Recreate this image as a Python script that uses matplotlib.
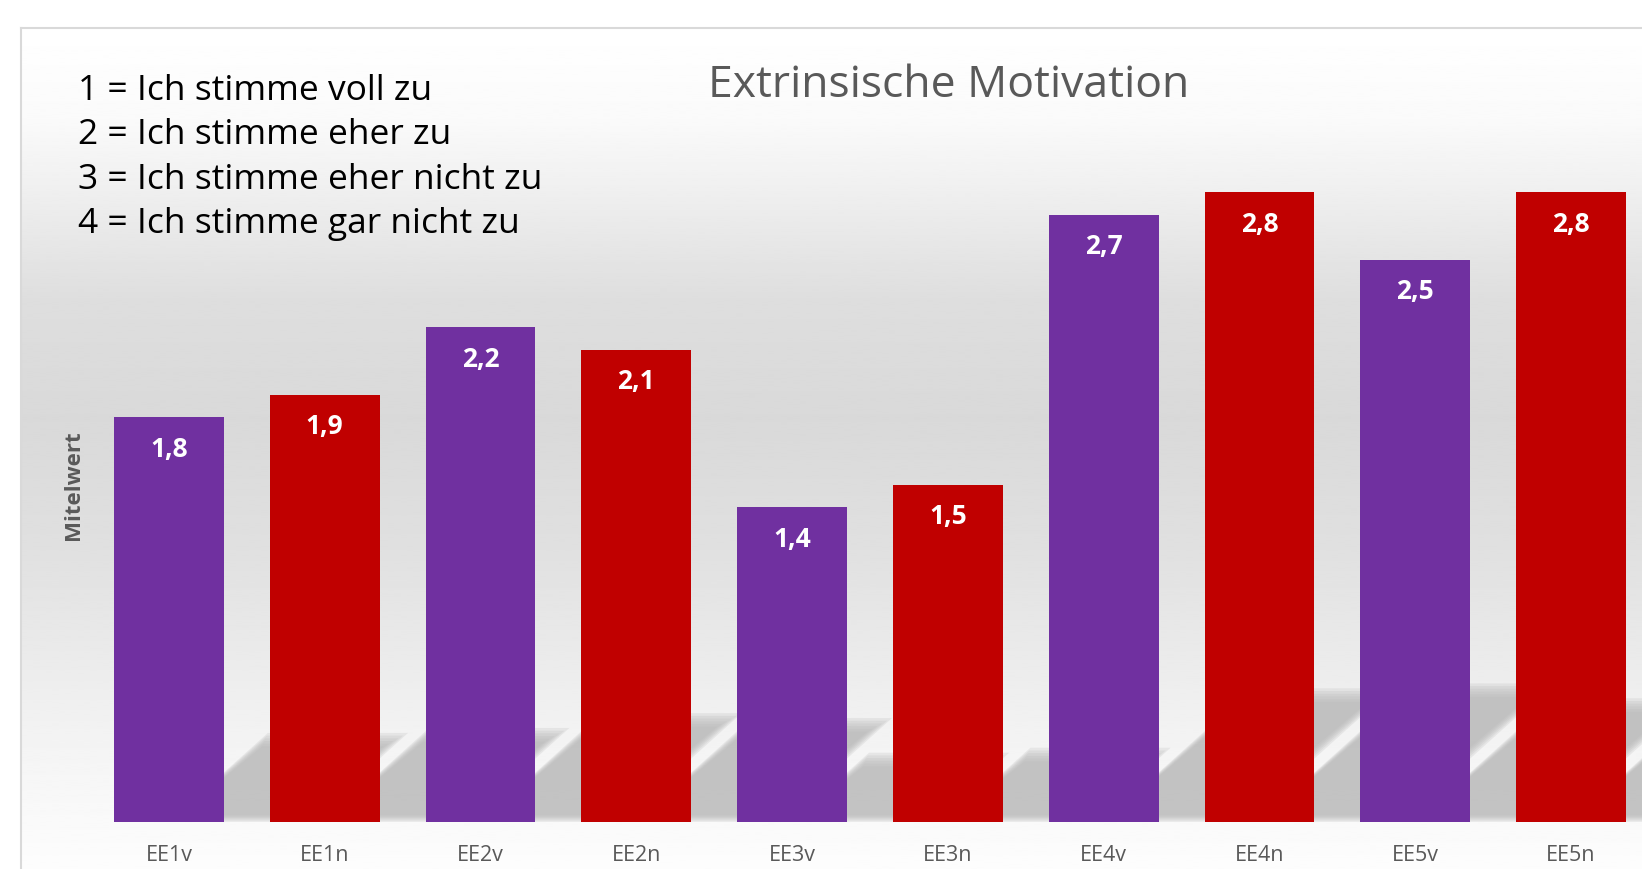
import numpy as np
import matplotlib.pyplot as plt

# data
categories = ['EE1v', 'EE1n', 'EE2v', 'EE2n', 'EE3v', 'EE3n', 'EE4v', 'EE4n', 'EE5v', 'EE5n']
values = [1.8, 1.9, 2.2, 2.1, 1.4, 1.5, 2.7, 2.8, 2.5, 2.8]
scale_lines = ['1 = Ich stimme voll zu',
               '2 = Ich stimme eher zu',
               '3 = Ich stimme eher nicht zu',
               '4 = Ich stimme gar nicht zu']
title = 'Extrinsische Motivation'
ylabel = 'Mitelwert'

purple = '#7030A0'
red = '#C00000'
colors = [purple if c.endswith('v') else red for c in categories]

plt.rcParams['font.family'] = ['Open Sans', 'DejaVu Sans']

W, H = 1642, 870
fig = plt.figure(figsize=(W / 100, H / 100), dpi=100)
fig.patch.set_facecolor('white')

# background gradient of the chart area (white -> grey -> white)
bg = fig.add_axes([21 / W, 0, 1 - 21 / W, (H - 29) / H])
stops_px = [29, 120, 200, 300, 420, 550, 650, 750, 830, 870]
stops_grey = [255, 250, 238, 222, 217, 224, 234, 244, 250, 253]
rows = np.linspace(29, 870, 400)
grad = np.interp(rows, stops_px, stops_grey)
bg.imshow(grad[:, None], extent=[0, 1, 0, 1], aspect='auto', cmap='gray',
          vmin=0, vmax=255, origin='upper', interpolation='bilinear')
bg.set_xlim(0, 1)
bg.set_ylim(0, 1)
bg.set_xticks([])
bg.set_yticks([])
for s in ['right', 'bottom']:
    bg.spines[s].set_visible(False)
for s in ['left', 'top']:
    bg.spines[s].set_color('#d9d9d9')
    bg.spines[s].set_linewidth(1.5)

# main axes
ax = fig.add_axes([91 / W, 47 / H, 1558 / W, 720 / H])
ax.patch.set_alpha(0)
ax.set_xlim(-0.5, 9.5)
ax.set_ylim(0, 3.2)
x = np.arange(len(values))

# soft slanted shadows behind the bars (stacked layers give a blurred edge)
for xi, h in zip(x, values):
    hs = 0.22 * h
    d = 0.353 * h
    for j in range(6):
        ex = 0.012 * j
        ey = 0.012 * j
        top = hs - ey
        dd = d * top / hs
        ax.fill([xi + ex, xi + 0.9 - ex, xi + 0.9 - ex + dd, xi + ex + dd],
                [ey * 0.5, ey * 0.5, top, top],
                color='#b5b5b5', alpha=0.22, lw=0, zorder=1)

ax.bar(x, values, width=0.706, color=colors, zorder=3)

for xi, h in zip(x, values):
    ax.text(xi, h - 0.138, f'{h:.1f}'.replace('.', ','), ha='center', va='center',
            color='white', fontsize=19, fontweight='bold', zorder=4)

ax.set_xticks(x, categories)
ax.set_yticks([])
ax.tick_params(axis='x', length=0, pad=16, labelsize=15.5, labelcolor='#595959')
for s in ax.spines.values():
    s.set_visible(False)

fig.text(73 / W, 1 - 485 / H, ylabel, rotation=90, ha='center', va='center',
         fontsize=16, fontweight='bold', color='#595959')
fig.text(949 / W, 1 - 86 / H, title, ha='center', va='center',
         fontsize=32, color='#595959')
for i, line in enumerate(scale_lines):
    fig.text(78 / W, 1 - (91 + i * 44.3) / H, line, ha='left', va='center',
             fontsize=25.5, color='black')

fig.savefig('out.png', dpi=100)
